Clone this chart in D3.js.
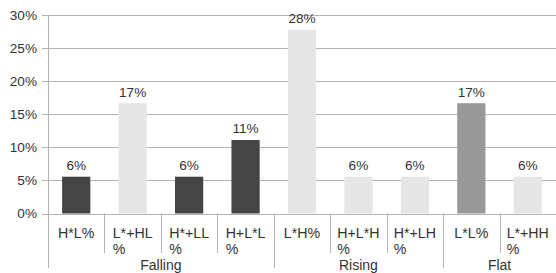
<!DOCTYPE html>
<html>
<head>
<meta charset="utf-8">
<script src="https://cdn.jsdelivr.net/npm/d3@7"></script>
<style>
  html, body { margin: 0; padding: 0; background: #fff; }
  svg { display: block; font-family: "Liberation Sans", Arial, sans-serif; }
</style>
</head>
<body>
<svg id="chart"></svg>
<script>
// data (counts out of 18)
const categories = ["H*L%", "L*+HL%", "H*+LL%", "H+L*L%", "L*H%", "H+L*H%", "H*+LH%", "L*L%", "L*+HH%"];
const groups = ["Falling", "Falling", "Falling", "Falling", "Rising", "Rising", "Rising", "Flat", "Flat"];
const values = [5.56, 16.67, 5.56, 11.11, 27.78, 5.56, 5.56, 16.67, 5.56];
const labels = ["6%", "17%", "6%", "11%", "28%", "6%", "6%", "17%", "6%"];
const yTicks = [0, 5, 10, 15, 20, 25, 30];

// bar shading
const shades = ["#454545", "#e6e6e6", "#454545", "#454545", "#e6e6e6", "#e6e6e6", "#e6e6e6", "#999999", "#e6e6e6"];

let width = 556;
let height = 273;
let mLeft = 48, mRight = 556, mTop = 15, mBottom = 213.5;

let svg = d3.select("#chart").attr("width", width).attr("height", height);

let x = d3.scaleBand()
  .domain(d3.range(categories.length))
  .range([mLeft, mRight])
  .paddingInner(0.5)
  .paddingOuter(0.25);

let y = d3.scaleLinear().domain([0, 30]).range([mBottom, mTop]);

let gridColor = "#b3b3b3";
let textColor = "#333";

// grid + y ticks
svg.append("g")
  .selectAll("line")
  .data(yTicks)
  .enter()
  .append("line")
  .attr("x1", mLeft - 6)
  .attr("x2", mRight)
  .attr("y1", d => Math.round(y(d)) + 0.5)
  .attr("y2", d => Math.round(y(d)) + 0.5)
  .attr("stroke", gridColor)
  .attr("stroke-width", 1);

svg.append("g")
  .selectAll("text")
  .data(yTicks)
  .enter()
  .append("text")
  .attr("x", 37)
  .attr("y", d => y(d) + 4.8)
  .attr("text-anchor", "end")
  .attr("font-size", 13.6)
  .attr("fill", textColor)
  .text(d => d + "%");

// bars
svg.append("g")
  .selectAll("rect")
  .data(values)
  .enter()
  .append("rect")
  .attr("x", (d, i) => x(i))
  .attr("width", x.bandwidth())
  .attr("y", d => y(d))
  .attr("height", d => y(0) - y(d))
  .attr("fill", (d, i) => shades[i]);

// value labels
svg.append("g")
  .selectAll("text")
  .data(values)
  .enter()
  .append("text")
  .attr("x", (d, i) => x(i) + x.bandwidth() / 2)
  .attr("y", d => y(d) - 6.5)
  .attr("text-anchor", "middle")
  .attr("font-size", 13.6)
  .attr("fill", textColor)
  .text((d, i) => labels[i]);

// category separators and group separators below the axis
let step = x.step();
let edge = i => Math.round(mLeft + i * step) + 0.5;

let groupStarts = [0];
groups.forEach((g, i) => { if (i > 0 && g !== groups[i - 1]) groupStarts.push(i); });
groupStarts.push(groups.length);

d3.range(categories.length).forEach(i => {
  let isGroup = groupStarts.includes(i);
  svg.append("line")
    .attr("x1", edge(i)).attr("x2", edge(i))
    .attr("y1", i === 0 ? mTop : mBottom)
    .attr("y2", isGroup ? 268 : 253)
    .attr("stroke", gridColor);
});

// category labels, wrapped when too wide
let catG = svg.append("g");
categories.forEach((c, i) => {
  let t = catG.append("text")
    .attr("font-size", 14.2)
    .attr("fill", textColor)
    .attr("text-anchor", "start");
  let probe = t.text(c).node().getComputedTextLength();
  let lines = probe > step - 8 ? [c.slice(0, -1), "%"] : [c];
  t.text(null);
  let widths = [];
  lines.forEach((ln, k) => {
    let s = t.append("tspan").attr("y", 237.5 + k * 16).text(ln);
    widths.push(s.node().getComputedTextLength());
  });
  let cx = mLeft + (i + 0.5) * step;
  let x0 = cx - d3.max(widths) / 2;
  t.selectAll("tspan").attr("x", x0);
});

// group labels
for (let k = 0; k < groupStarts.length - 1; k++) {
  let a = groupStarts[k], b = groupStarts[k + 1];
  svg.append("text")
    .attr("x", mLeft + (a + b) / 2 * step)
    .attr("y", 270)
    .attr("text-anchor", "middle")
    .attr("font-size", 14)
    .attr("fill", textColor)
    .text(groups[a]);
}
</script>
</body>
</html>
